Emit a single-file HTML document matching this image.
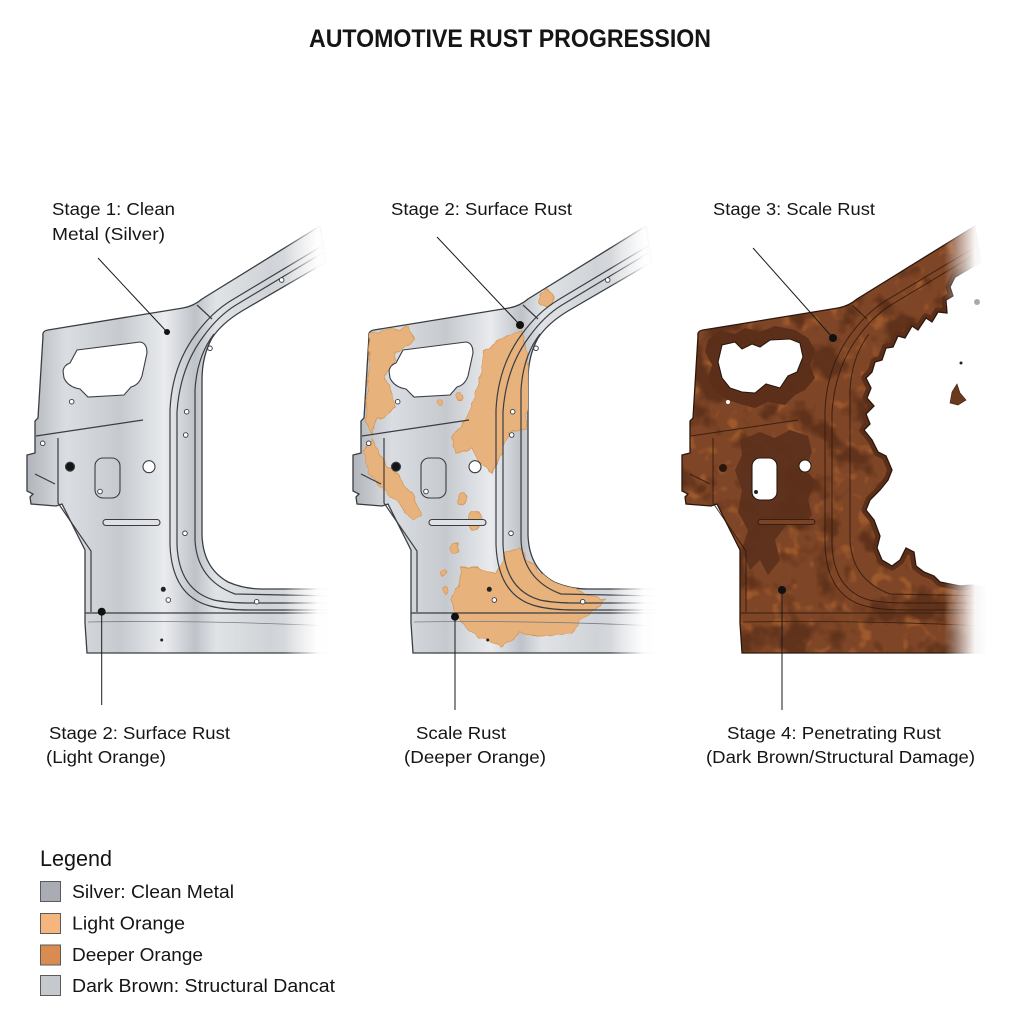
<!DOCTYPE html>
<html>
<head>
<meta charset="utf-8">
<style>
  html,body{margin:0;padding:0;background:#ffffff;}
  svg{display:block;}
  text{font-family:"Liberation Sans","DejaVu Sans",sans-serif;fill:#151515;}
</style>
</head>
<body>
<svg width="1024" height="1024" viewBox="0 0 1024 1024" xmlns="http://www.w3.org/2000/svg">
<defs>
  <linearGradient id="silver" gradientUnits="userSpaceOnUse" x1="30" y1="0" x2="330" y2="0">
    <stop offset="0" stop-color="#b4b8be"/>
    <stop offset="0.12" stop-color="#dadde1"/>
    <stop offset="0.3" stop-color="#c6cacf"/>
    <stop offset="0.45" stop-color="#e9ebee"/>
    <stop offset="0.55" stop-color="#bfc3c9"/>
    <stop offset="0.62" stop-color="#e0e3e6"/>
    <stop offset="0.8" stop-color="#d0d3d7"/>
    <stop offset="1" stop-color="#e6e8ea"/>
  </linearGradient>
  <linearGradient id="fade" x1="0" y1="0" x2="1" y2="0">
    <stop offset="0" stop-color="#ffffff" stop-opacity="0"/>
    <stop offset="0.7" stop-color="#ffffff" stop-opacity="0.95"/>
    <stop offset="1" stop-color="#ffffff" stop-opacity="1"/>
  </linearGradient>

  <path id="outline" d="M 43,336 Q 42,331 48,330 L 183,308 Q 194,306 202,299 L 320,226 L 326,262 L 242,311 Q 222,323 212,338 Q 202,356 202,380 L 202,535 Q 203,568 228,582 Q 244,589 262,589 L 332,589 L 332,653 L 87,653 L 85,623 L 85,550 L 62,504 L 56,506 L 31,504 L 30,497 L 33,494 L 27,491 L 27,455 L 35,453 L 35,421 L 38,418 Z"/>
  <clipPath id="clipP"><use href="#outline"/></clipPath>

  <path id="p3" d="M 698,336 Q 697,331 703,330 L 838,308 Q 849,306 857,299 L 975,226 L 981,262 L 955,277 L 950,287 L 953,296 L 946,300 L 947,313 L 938,312 L 932,322 L 926,318 L 918,330 L 912,326 L 905,338 L 898,336 L 893,347 L 886,348 L 882,360 L 875,362 L 872,372 L 866,378 L 871,388 L 867,398 L 874,406 L 866,414 L 870,424 L 864,430 L 872,440 L 878,452 L 886,456 L 892,470 L 888,480 L 880,490 L 870,500 L 866,510 L 874,520 L 880,536 L 877,548 L 882,560 L 892,566 L 900,560 L 906,548 L 914,552 L 916,566 L 924,572 L 934,576 L 940,582 L 950,584 L 960,586 L 972,585 L 987,588 L 987,653 L 742,653 L 740,623 L 740,550 L 717,504 L 711,506 L 686,504 L 685,497 L 688,494 L 682,491 L 682,455 L 690,453 L 690,421 L 693,418 Z"/>
  <clipPath id="clip3"><use href="#p3"/></clipPath>

  <g id="ln" fill="none">
    <path d="M 197,305 L 212,319"/>
    <path d="M 322,246 L 232,300 Q 212,312 196,334 Q 172,366 170,410 L 170,545 Q 172,596 210,606 Q 225,610 250,610 L 332,610"/>
    <path d="M 324,252 L 236,305 Q 218,316 203,337 Q 180,368 177,412 L 177,545 Q 179,590 214,600 Q 228,603 250,603 L 332,603"/>
    <path d="M 214,334 Q 197,356 195,390 L 195,540 Q 197,580 235,594 L 332,596"/>
    <path d="M 85,613 L 332,613"/>
    <path d="M 36,436 L 143,420"/>
    <path d="M 58,438 L 58,503 L 91,551 L 91,612"/>
    <path d="M 35,474 L 55,484"/>
  </g>
  <path id="sill2" d="M 88,622 Q 200,620 332,626" fill="none"/>

  <filter id="rough" x="-10%" y="-10%" width="120%" height="120%">
    <feTurbulence type="fractalNoise" baseFrequency="0.09" numOctaves="2" seed="5" result="t"/>
    <feDisplacementMap in="SourceGraphic" in2="t" scale="7" xChannelSelector="R" yChannelSelector="G"/>
  </filter>
  <filter id="rustDark" x="0" y="0" width="1" height="1" color-interpolation-filters="sRGB">
    <feTurbulence type="fractalNoise" baseFrequency="0.032" numOctaves="3" seed="3"/>
    <feColorMatrix type="matrix" values="0 0 0 0 0.36  0 0 0 0 0.19  0 0 0 0 0.10  6 0 0 0 -3.1"/>
  </filter>
  <filter id="rustOrange" x="0" y="0" width="1" height="1" color-interpolation-filters="sRGB">
    <feTurbulence type="fractalNoise" baseFrequency="0.07" numOctaves="2" seed="11"/>
    <feColorMatrix type="matrix" values="0 0 0 0 0.66  0 0 0 0 0.38  0 0 0 0 0.18  0 5 0 0 -2.9"/>
  </filter>
</defs>

<rect width="1024" height="1024" fill="#ffffff"/>

<!-- Title -->
<text x="309" y="47" font-size="25" font-weight="bold" textLength="402" lengthAdjust="spacingAndGlyphs">AUTOMOTIVE RUST PROGRESSION</text>

<!-- ========== PANEL 1 ========== -->
<g>
  <use href="#outline" fill="url(#silver)" stroke="#3a3d42" stroke-width="1.3"/>
  <use href="#ln" stroke="#3a3d42" stroke-width="1.2"/>
  <use href="#sill2" stroke="#7a7e84" stroke-width="0.8"/>
  <g id="holes" stroke="#3a3d42" stroke-width="1.1">
    <path d="M 77,350 L 140,342 Q 147,343 147,353 L 142,376 Q 139,385 131,387 L 124,395 L 88,397 L 80,389 Q 68,387 64,378 L 63,371 Q 64,365 70,363 Z" fill="#ffffff"/>
    <rect x="95" y="458" width="25" height="40" rx="8" fill="none"/>
    <rect x="103" y="519.5" width="57" height="6" rx="3" fill="#dfe1e4"/>
    <circle cx="149" cy="466.7" r="6" fill="#ffffff"/>
    <circle cx="70" cy="466.7" r="4.5" fill="#151515"/>
    <g fill="#ffffff" stroke-width="0.9">
      <circle cx="100" cy="491.5" r="2.3"/>
      <circle cx="71.7" cy="401.7" r="2.3"/>
      <circle cx="42.7" cy="443.3" r="2.3"/>
      <circle cx="210" cy="348.3" r="2.3"/>
      <circle cx="281.7" cy="280" r="2.3"/>
      <circle cx="186.7" cy="411.7" r="2.3"/>
      <circle cx="185.7" cy="435" r="2.3"/>
      <circle cx="185" cy="533.3" r="2.3"/>
      <circle cx="256.7" cy="601.7" r="2.3"/>
      <circle cx="168.3" cy="600" r="2.3"/>
    </g>
    <circle cx="163.3" cy="589.3" r="2.5" fill="#222" stroke="none"/>
    <circle cx="161.7" cy="640" r="1.5" fill="#222" stroke="none"/>
  </g>
  <rect x="284" y="215" width="48" height="450" fill="url(#fade)"/>
  <rect x="331" y="215" width="12" height="450" fill="#ffffff"/>
</g>

<!-- ========== PANEL 2 ========== -->
<g transform="translate(326,0)">
  <use href="#outline" fill="url(#silver)" stroke="#3a3d42" stroke-width="1.3"/>
  <g clip-path="url(#clipP)">
    <g filter="url(#rough)" fill="#e8b27c" stroke="#d59758" stroke-width="0.8">
      <polygon points="42.3,333.3 82.3,326.7 89,338.3 82.3,346.7 69,353.3 65.7,366.7 59,376.7 65.7,393.3 69,406.7 62.3,413.3 52.3,420 45.7,433.3 39,420 42.3,386.7 44,353.3"/>
      <polygon points="159,350 180.7,336.7 195.7,330 202.3,360 203,400 200,430 182.3,432 175.7,453.3 165.7,473.3 152.3,460 145.7,446.7 129,453.3 125.7,436.7 139,420 145.7,406.7 152.3,386.7 155.7,366.7"/>
      <polygon points="45.7,436.7 52.3,453.3 69,473.3 85.7,493.3 95.7,513.3 85.7,520 69,500 55.7,486.7 42.3,473.3 39,453.3"/>
      <polygon points="135.7,566.7 152.3,568.3 169,573.3 179,553.3 192.3,546.7 205.7,563.3 225.7,580 252.3,590 279,600 265.7,611.7 252.3,620 245.7,633.3 219,636.7 192.3,633.3 175.7,646.7 152.3,636.7 139,626.7 129,613.3 125.7,600 132.3,586.7"/>
      <circle cx="134" cy="396.7" r="3.5"/>
      <circle cx="114" cy="403" r="3.5"/>
      <circle cx="137.3" cy="498.3" r="5"/>
      <ellipse cx="149" cy="520" rx="7" ry="10"/>
      <circle cx="129" cy="548" r="5"/>
      <circle cx="117.3" cy="573.3" r="3.5"/>
      <circle cx="119" cy="590" r="3"/>
      <ellipse cx="220.7" cy="298" rx="7" ry="9"/>
    </g>
  </g>
  <use href="#ln" stroke="#3a3d42" stroke-width="1.2"/>
  <use href="#sill2" stroke="#7a7e84" stroke-width="0.8"/>
  <use href="#holes"/>
  <rect x="284" y="215" width="48" height="450" fill="url(#fade)"/>
  <rect x="331" y="215" width="12" height="450" fill="#ffffff"/>
</g>

<!-- ========== PANEL 3 ========== -->
<g>
  <use href="#p3" fill="#7e4527"/>
  <g clip-path="url(#clip3)">
    <rect x="675" y="215" width="320" height="450" filter="url(#rustOrange)" opacity="0.75"/>
    <!-- dark patches -->
    <path d="M 708,340 L 720,330 L 735,334 L 745,328 L 760,332 L 775,326 L 795,330 L 808,338 L 815,350 L 810,365 L 815,378 L 805,390 L 795,395 L 785,405 L 768,402 L 755,408 L 740,404 L 728,400 L 715,392 L 708,378 L 712,365 L 705,352 Z" fill="#5b2f19"/>
    <path d="M 740,440 L 760,432 L 775,438 L 790,430 L 808,436 L 812,452 L 805,470 L 815,480 L 808,500 L 812,515 L 800,530 L 790,520 L 775,540 L 780,560 L 768,575 L 760,560 L 750,570 L 742,550 L 748,530 L 738,512 L 742,490 L 735,470 L 742,455 Z" fill="#5e321c"/>
    <rect x="675" y="215" width="320" height="450" filter="url(#rustDark)" opacity="0.85"/>
    <polyline points="981,262 955,277 950,287 953,296 946,300 947,313 938,312 932,322 926,318 918,330 912,326 905,338 898,336 893,347 886,348 882,360 875,362 872,372 866,378 871,388 867,398 874,406 866,414 870,424 864,430 872,440 878,452 886,456 892,470 888,480 880,490 870,500 866,510 874,520 880,536 877,548 882,560 892,566 900,560 906,548 914,552 916,566 924,572 934,576 940,582 950,584 960,586 972,585 987,588" fill="none" stroke="#5a2e18" stroke-width="9" stroke-linejoin="round"/>
  </g>
  <use href="#ln" transform="translate(655,0)" stroke="#2b170b" stroke-width="1" opacity="0.8"/>
  <use href="#sill2" transform="translate(655,0)" stroke="#3a200f" stroke-width="0.8"/>
  <use href="#p3" fill="none" stroke="#2a170c" stroke-width="1.3"/>
  <!-- window hole -->
  <path d="M 722,345 L 735,342 L 742,349 L 752,344 L 760,347 L 770,340 L 790,339 L 800,343 L 803,357 L 797,372 L 788,376 L 780,388 L 766,384 L 755,393 L 742,392 L 730,388 L 722,378 L 718,362 Z" fill="#ffffff" stroke="#2a170c" stroke-width="1.1"/>
  <rect x="752" y="458" width="25" height="42" rx="8" fill="#ffffff" stroke="#2a170c" stroke-width="1.1"/>
  <circle cx="756" cy="492" r="2" fill="#222"/>
  <circle cx="805" cy="466" r="6" fill="#ffffff" stroke="#2a170c" stroke-width="1"/>
  <circle cx="723" cy="468" r="4" fill="#2a170c"/>
  <circle cx="728" cy="402" r="2" fill="#ffffff"/>
  <rect x="758" y="519.5" width="57" height="5" rx="2.5" fill="#7a4325" stroke="#2a170c" stroke-width="0.8"/>
  <rect x="944" y="215" width="44" height="90" fill="url(#fade)"/>
  <rect x="944" y="568" width="44" height="95" fill="url(#fade)"/>
  <rect x="987" y="215" width="20" height="450" fill="#ffffff"/>
  <!-- isolated bits -->
  <path d="M 952,392 L 957,384 L 960,393 L 966,400 L 958,405 L 950,403 Z" fill="#6b3a1e" stroke="#3a1f0f" stroke-width="0.6"/>
  <circle cx="977" cy="302" r="3" fill="#a9a9a9"/>
  <circle cx="961" cy="363" r="1.5" fill="#222"/>
</g>

<!-- ========== LEADERS ========== -->
<g stroke="#1a1a1a" stroke-width="1" fill="none">
  <line x1="98" y1="258" x2="167" y2="332"/>
  <line x1="101.7" y1="612" x2="101.7" y2="705"/>
  <line x1="437" y1="237" x2="520" y2="325"/>
  <line x1="455" y1="617" x2="455" y2="710"/>
  <line x1="753" y1="248" x2="833" y2="338"/>
  <line x1="782" y1="590" x2="782" y2="710"/>
</g>
<g fill="#111">
  <circle cx="167" cy="332" r="3"/>
  <circle cx="101.7" cy="611.7" r="4"/>
  <circle cx="520" cy="325" r="4"/>
  <circle cx="455" cy="616.7" r="4"/>
  <circle cx="833" cy="338" r="4"/>
  <circle cx="782" cy="590" r="4"/>
</g>

<!-- ========== LABELS ========== -->
<g font-size="17.5">
  <text x="52" y="215" textLength="123" lengthAdjust="spacingAndGlyphs">Stage 1: Clean</text>
  <text x="52" y="240" textLength="113" lengthAdjust="spacingAndGlyphs">Metal (Silver)</text>
  <text x="391" y="215" textLength="181" lengthAdjust="spacingAndGlyphs">Stage 2: Surface Rust</text>
  <text x="713" y="215" textLength="162" lengthAdjust="spacingAndGlyphs">Stage 3: Scale Rust</text>

  <text x="49" y="739" textLength="181" lengthAdjust="spacingAndGlyphs">Stage 2: Surface Rust</text>
  <text x="46" y="763" textLength="120" lengthAdjust="spacingAndGlyphs">(Light Orange)</text>
  <text x="416" y="739" textLength="90" lengthAdjust="spacingAndGlyphs">Scale Rust</text>
  <text x="404" y="763" textLength="142" lengthAdjust="spacingAndGlyphs">(Deeper Orange)</text>
  <text x="727" y="739" textLength="214" lengthAdjust="spacingAndGlyphs">Stage 4: Penetrating Rust</text>
  <text x="706" y="763" textLength="269" lengthAdjust="spacingAndGlyphs">(Dark Brown/Structural Damage)</text>
</g>

<!-- ========== LEGEND ========== -->
<text x="40" y="866" font-size="22" textLength="72" lengthAdjust="spacingAndGlyphs">Legend</text>
<g stroke="#5a5a5a" stroke-width="1">
  <rect x="40.5" y="881.5" width="20" height="20" fill="#a9adb3"/>
  <rect x="40.5" y="913.5" width="20" height="20" fill="#f4b67e"/>
  <rect x="40.5" y="945" width="20" height="20" fill="#d98b52"/>
  <rect x="40.5" y="975.5" width="20" height="20" fill="#c5c9cd"/>
</g>
<g font-size="18">
  <text x="72" y="898" textLength="162" lengthAdjust="spacingAndGlyphs">Silver: Clean Metal</text>
  <text x="72" y="929.5" textLength="113" lengthAdjust="spacingAndGlyphs">Light Orange</text>
  <text x="72" y="961" textLength="131" lengthAdjust="spacingAndGlyphs">Deeper Orange</text>
  <text x="72" y="992" textLength="263" lengthAdjust="spacingAndGlyphs">Dark Brown: Structural Dancat</text>
</g>
</svg>
</body>
</html>
